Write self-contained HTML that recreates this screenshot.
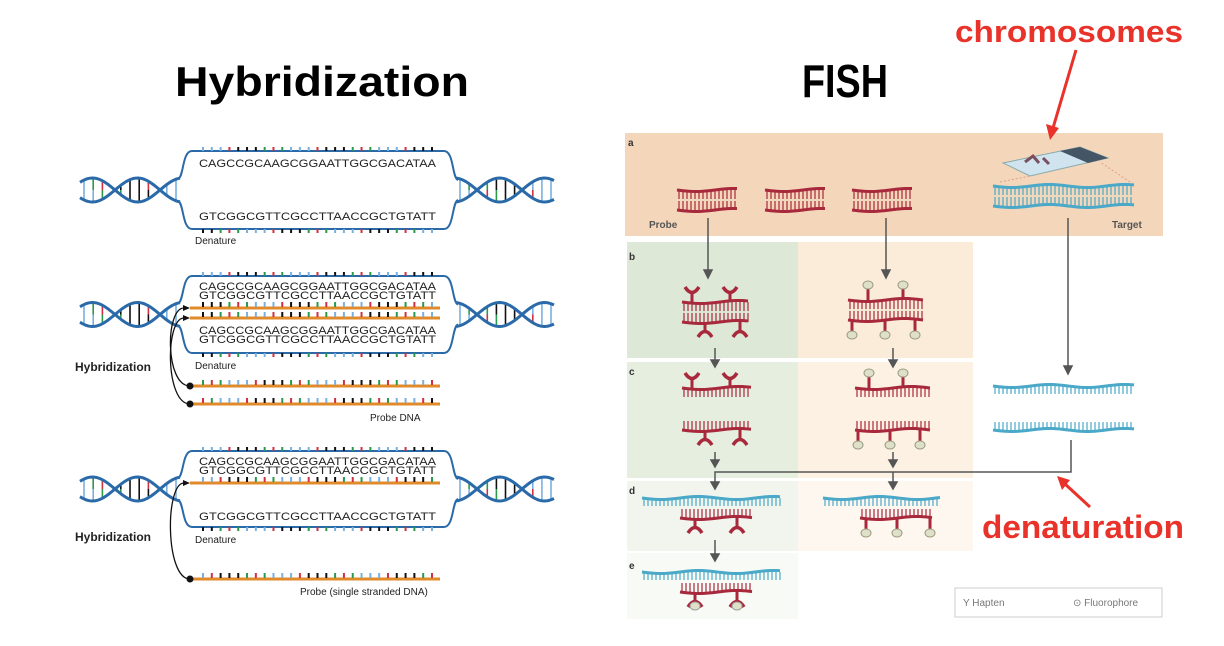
<!DOCTYPE html>
<html><head><meta charset="utf-8"><style>
html,body{margin:0;padding:0;background:#fff;width:1224px;height:646px;overflow:hidden}
svg{display:block;font-family:"Liberation Sans",Arial,sans-serif}
</style></head><body>
<svg id="s" width="1224" height="646" viewBox="0 0 1224 646" xmlns="http://www.w3.org/2000/svg">
<rect width="1224" height="646" fill="#fff"/>
<text x="322" y="96" font-size="42" font-weight="bold" text-anchor="middle" textLength="294" lengthAdjust="spacingAndGlyphs">Hybridization</text>
<text x="845" y="97" font-size="46" font-weight="bold" text-anchor="middle" textLength="86" lengthAdjust="spacingAndGlyphs">FISH</text>
<text x="1069" y="42" font-size="31" font-weight="bold" fill="#e8322a" text-anchor="middle" textLength="228" lengthAdjust="spacingAndGlyphs">chromosomes</text>
<text x="1083" y="538" font-size="32" font-weight="bold" fill="#e8322a" text-anchor="middle" textLength="202" lengthAdjust="spacingAndGlyphs">denaturation</text>

<rect x="625" y="133" width="538" height="103" fill="#f4d6ba"/>
<rect x="627" y="242" width="171" height="116" fill="#dde8d6"/>
<rect x="798" y="242" width="175" height="116" fill="#fbecd9"/>
<rect x="627" y="362" width="171" height="116" fill="#e6eee0"/>
<rect x="798" y="362" width="175" height="116" fill="#fcf1e3"/>
<rect x="627" y="481" width="171" height="70" fill="#f1f5ee"/>
<rect x="798" y="481" width="175" height="70" fill="#fdf7ef"/>
<rect x="627" y="553" width="171" height="66" fill="#f8faf6"/>
<g font-size="10" font-weight="bold" fill="#333">
<text x="628" y="146">a</text><text x="629" y="260">b</text><text x="629" y="375">c</text><text x="629" y="494">d</text><text x="629" y="569">e</text>
<text x="649" y="228" fill="#555">Probe</text><text x="1112" y="228" fill="#555">Target</text>
</g>
<rect x="955" y="588" width="207" height="29" fill="#fff" stroke="#ccc"/>
<text x="963" y="606" font-size="10" fill="#777">Y Hapten</text>
<text x="1073" y="606" font-size="10" fill="#777">⊙ Fluorophore</text>
<polygon points="1003,163 1080,147 1108,158 1030,176" fill="#cfe4ef" stroke="#8aa" stroke-width="1"/>
<polygon points="1060,151 1080,147 1108,158 1088,163" fill="#445566"/>
<path d="M1025,162 l8,-6 l6,7 M1043,158 l6,6" stroke="#7a5060" stroke-width="3" fill="none"/>
<path d="M1000,182 L1030,176 M1130,182 L1100,162" stroke="#e0a090" stroke-dasharray="2,2"/>
<g id="dyn"></g>
<g stroke="#555" stroke-width="1.5" fill="#555">
<line x1="708" y1="218" x2="708" y2="272"/><polygon points="704,270 712,270 708,278"/>
<line x1="886" y1="218" x2="886" y2="272"/><polygon points="882,270 890,270 886,278"/>
<line x1="1068" y1="218" x2="1068" y2="368"/><polygon points="1064,366 1072,366 1068,374"/>
<line x1="715" y1="348" x2="715" y2="362"/><polygon points="711,360 719,360 715,367"/>
<line x1="893" y1="348" x2="893" y2="362"/><polygon points="889,360 897,360 893,367"/>
<line x1="715" y1="452" x2="715" y2="462"/><polygon points="711,460 719,460 715,467"/>
<line x1="893" y1="452" x2="893" y2="462"/><polygon points="889,460 897,460 893,467"/>
<polyline points="715,484 715,472 1071,472 1071,440" fill="none"/>
<line x1="893" y1="472" x2="893" y2="484"/>
<polygon points="711,482 719,482 715,489"/><polygon points="889,482 897,482 893,489"/>
<line x1="715" y1="540" x2="715" y2="556"/><polygon points="711,554 719,554 715,561"/>
</g>
<g stroke="#e8322a" stroke-width="3" fill="#e8322a">
<line x1="1076" y1="50" x2="1053" y2="128"/><polygon points="1046,124 1059,128 1050,140" stroke="none"/>
<line x1="1090" y1="507" x2="1065" y2="484"/><polygon points="1057,476 1070,480 1062,490" stroke="none"/>
</g>
<g font-size="10" fill="#222">
<text x="195" y="244">Denature</text><text x="195" y="369">Denature</text><text x="195" y="543">Denature</text>
<text x="370" y="421">Probe DNA</text><text x="300" y="595">Probe (single stranded DNA)</text>
</g>
<g font-size="12" font-weight="bold" fill="#222">
<text x="75" y="371">Hybridization</text><text x="75" y="541">Hybridization</text>
</g>
</svg>
<script>
(function(){
const NS="http://www.w3.org/2000/svg",g=document.getElementById('dyn');
function el(t,a){const e=document.createElementNS(NS,t);for(const k in a)e.setAttribute(k,a[k]);g.appendChild(e);return e}
const cols=['#7ab0e0','#2a9a4a','#111','#7ab0e0','#d03040','#111','#7ab0e0','#2a9a4a','#111','#d03040'];
const topS="CAGCCGCAAGCGGAATTGGCGACATAA",botS="GTCGGCGTTCGCCTTAACCGCTGTATT";
function ticks(x0,x1,y,len,n,seed){for(let i=0;i<n;i++){const x=x0+(x1-x0)*i/(n-1);el('line',{x1:x,y1:y,x2:x,y2:y+len,stroke:cols[(i*3+seed)%10],'stroke-width':2})}}
function seq(s,y){const t=el('text',{x:199,y:y,'font-size':11,textLength:237,lengthAdjust:'spacingAndGlyphs',fill:'#222'});t.textContent=s}
function helix(x0,x1,y,ph){const f=x=>(x-ph)/45*Math.PI;let p1='',p2='';for(let x=x0;x<=x1;x+=2){const a=f(x);p1+=(x==x0?'M':'L')+x+','+(y-12*Math.sin(a));p2+=(x==x0?'M':'L')+x+','+(y+12*Math.sin(a))}
 for(let i=0;i<11;i++){const x=x0+4+i*(x1-x0-8)/10,h=12*Math.abs(Math.sin(f(x)));if(h<3)continue;el('line',{x1:x,y1:y-h,x2:x,y2:y,stroke:cols[(i*7)%10],'stroke-width':1.6});el('line',{x1:x,y1:y,x2:x,y2:y+h,stroke:cols[(i*7+3)%10],'stroke-width':1.6})}
 el('path',{d:p1,stroke:'#2a6aa8','stroke-width':3,fill:'none'});el('path',{d:p2,stroke:'#2a6aa8','stroke-width':3,fill:'none'})}
function block(yt,yb){const ym=(yt+yb)/2;helix(80,180,ym,70);helix(456,555,ym,432);
 el('path',{d:`M178,${ym-11} C184,${ym-13} 182,${yt} 192,${yt} L444,${yt} C454,${yt} 452,${ym-12} 458,${ym-10}`,stroke:'#2a6aa8','stroke-width':2,fill:'none'});
 el('path',{d:`M178,${ym+11} C184,${ym+13} 182,${yb} 192,${yb} L444,${yb} C454,${yb} 452,${ym+12} 458,${ym+10}`,stroke:'#2a6aa8','stroke-width':2,fill:'none'});
 ticks(203,432,yt-4,4,27,0);ticks(203,432,yb,4,27,5)}
function orange(y,ch,dot){el('line',{x1:190,y1:y,x2:440,y2:y,stroke:'#e08a2a','stroke-width':3});ticks(203,432,y-6,5,27,ch);
 if(dot)el('circle',{cx:190,cy:y,r:3.5,fill:'#111'});}
function curve(x1,y1,x2,y2){el('path',{d:`M${x1},${y1} C165,${y1} 165,${y2} ${x2-6},${y2}`,stroke:'#111','stroke-width':1.3,fill:'none'});el('polygon',{points:`${x2},${y2} ${x2-7},${y2-3} ${x2-7},${y2+3}`,fill:'#111'})}
block(151,229);seq(topS,167);seq(botS,220);
block(276,353);seq(topS,290);seq(botS,299);orange(308,2);orange(318,5);seq(topS,334);seq(botS,343);
orange(386,1,1);orange(404,4,1);curve(190,386,190,308);curve(190,404,190,318);
block(451,527);seq(topS,465);seq(botS,474);orange(483,3);seq(botS,520);orange(579,6,1);curve(190,579,190,483);
const R='#a8283c',B='#4aa8c8';
function strand(x0,x1,y,c,tk,dir,w){let d='';for(let x=x0;x<=x1;x+=3)d+=(x==x0?'M':'L')+x+','+(y+1.5*Math.sin((x-x0)/12));
 el('path',{d:d,stroke:c,'stroke-width':w||3,fill:'none'});for(let x=x0+2;x<=x1-2;x+=4)el('line',{x1:x,y1:y,x2:x,y2:y+dir*tk,stroke:c,'stroke-width':1.2})}
function ds(x0,x1,y,c1,c2){strand(x0,x1,y,c1,9,1);strand(x0,x1,y+20,c2,9,-1);for(let x=x0+2;x<=x1-2;x+=4)el('line',{x1:x,y1:y+9,x2:x,y2:y+11,stroke:'#e0e0c8','stroke-width':1.2})}
ds(677,737,190,R,R);ds(765,826,190,R,R);ds(852,912,190,R,R);ds(993,1135,186,B,B);
function hap(x,y,dir){el('line',{x1:x,y1:y,x2:x,y2:y+dir*8,stroke:R,'stroke-width':3});el('path',{d:`M${x-7},${y+dir*15} Q${x},${y+dir*4} ${x+7},${y+dir*15}`,stroke:R,'stroke-width':3.5,fill:'none'})}
function flu(x,y,dir){el('line',{x1:x,y1:y,x2:x,y2:y+dir*11,stroke:R,'stroke-width':3});el('ellipse',{cx:x,cy:y+dir*15,rx:5,ry:4,fill:'#dfe0c8',stroke:'#9a9a80'})}
ds(682,750,302,R,R);hap(692,302,-1);hap(730,302,-1);hap(705,322,1);hap(740,322,1);
ds(848,925,300,R,R);flu(868,300,-1);flu(903,300,-1);flu(852,320,1);flu(885,320,1);flu(915,320,1);
strand(682,752,388,R,9,1);hap(692,388,-1);hap(730,388,-1);
strand(682,752,430,R,9,-1);hap(705,430,1);hap(740,430,1);
strand(855,932,388,R,9,1);flu(869,388,-1);flu(903,388,-1);
strand(855,932,430,R,9,-1);flu(858,430,1);flu(890,430,1);flu(920,430,1);
strand(993,1135,386,B,8,1);strand(993,1135,430,B,8,-1);
strand(642,782,498,B,8,1);strand(680,753,518,R,9,-1);hap(695,518,1);hap(737,518,1);
strand(823,940,498,B,8,1);strand(860,933,518,R,9,-1);flu(866,518,1);flu(897,518,1);flu(930,518,1);
strand(642,782,572,B,8,1);strand(680,753,592,R,9,-1);hap(695,592,1);hap(737,592,1);
el('ellipse',{cx:695,cy:606,rx:5,ry:4,fill:'#dfe0c8',stroke:'#999'});el('ellipse',{cx:737,cy:606,rx:5,ry:4,fill:'#dfe0c8',stroke:'#999'});
})();
</script>
</body></html>
